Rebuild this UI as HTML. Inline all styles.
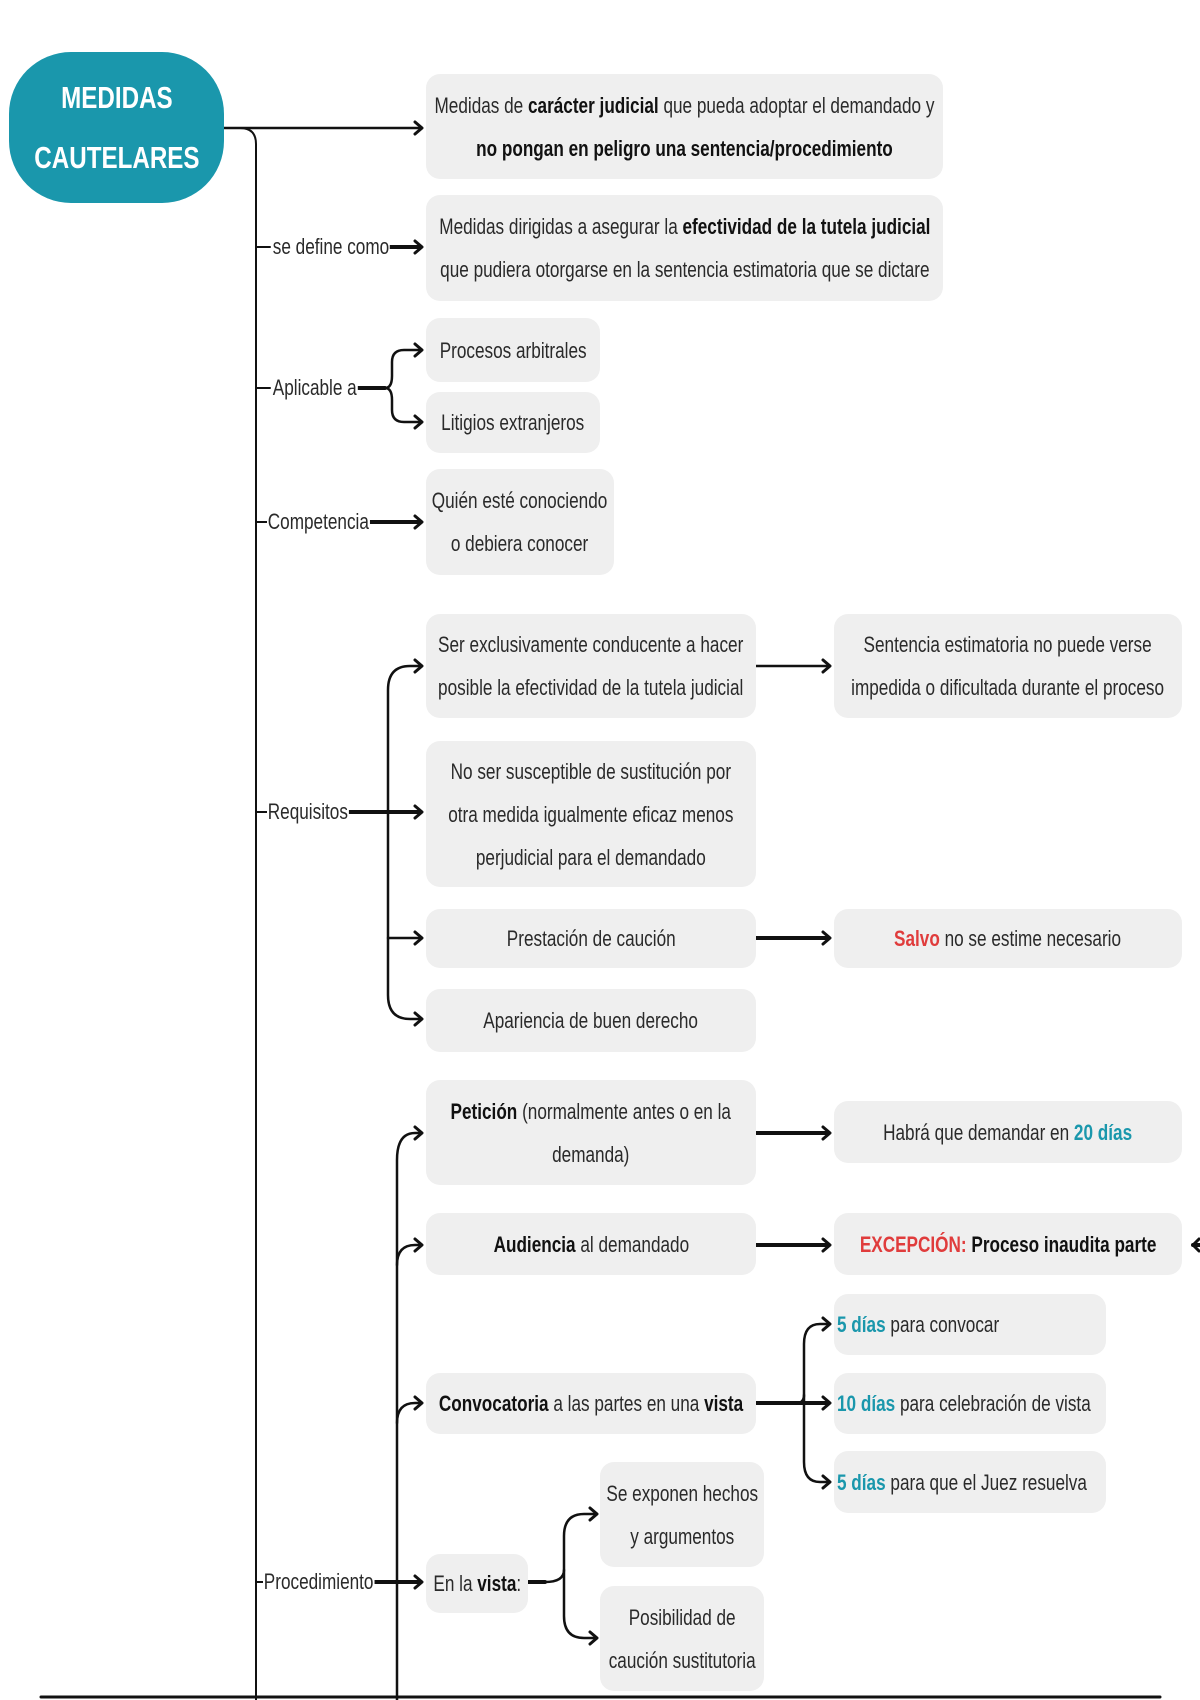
<!DOCTYPE html>
<html><head><meta charset="utf-8"><style>
body{margin:0;width:1200px;height:1700px;background:#fff;position:relative;overflow:hidden;font-family:"Liberation Sans",sans-serif;color:#2a2a2a}
.b{position:absolute;background:#efefef;border-radius:14px;display:flex;align-items:center;justify-content:center;text-align:center;font-size:22px;line-height:43px;box-sizing:border-box}
.b.lft{justify-content:flex-start}
.s{display:inline-block;white-space:nowrap;transform:scaleX(.78);transform-origin:center}
.lft .s{transform-origin:left center;margin-left:6px}
.l{position:absolute;font-size:22px;background:#fff;line-height:26px;padding:0 1px;white-space:nowrap;transform:scaleX(.78);transform-origin:left center}
b{font-weight:bold;color:#111}
.t{color:#1a97ac;font-weight:bold}
.r{color:#e03c3c;font-weight:bold}
svg{position:absolute;left:0;top:0}
</style></head><body>
<svg width="1200" height="1700" fill="none" stroke="#111" stroke-linecap="round" stroke-linejoin="round">
<path d="M224 128 L240 128 Q256 128 256 144 L256 1700" stroke-width="2"/>
<path d="M224 128 L420 128" stroke-width="2.5"/>
<path d="M41 1697 L1160 1697" stroke-width="3"/>
<g stroke-width="2"><path d="M256 247 L270 247"/><path d="M256 388 L270 388"/><path d="M256 522 L268 522"/><path d="M256 812 L268 812"/><path d="M256 1582 L264 1582"/></g>
<g stroke-width="4">
<path d="M388 247 L420 247"/>
<path d="M356 388 L385 388"/>
<path d="M366 522 L420 522"/>
<path d="M343 812 L420 812"/>
<path d="M370 1582 L420 1582"/>
<path d="M756 938 L828 938"/>
<path d="M756 1133 L828 1133"/>
<path d="M756 1245 L828 1245"/>
<path d="M756 1403 L828 1403"/>
<path d="M528 1582 L545 1582"/>
<path d="M1200 1245 L1193 1245"/>
</g>
<path d="M756 666 L828 666" stroke-width="2.5"/>
<g stroke-width="2.5">
<path d="M385 388 Q392 388 392 376 L392 362 Q392 350 404 350 L420 350"/>
<path d="M385 388 Q392 388 392 400 L392 410 Q392 422 404 422 L420 422"/>
<path d="M420 666 L410 666 Q388 666 388 690 L388 995 Q388 1019 410 1019 L420 1019"/>
<path d="M388 938 Q388 938 410 938 L420 938"/>
<path d="M385 812 L388 812"/>
<path d="M397 1700 L397 1160 Q397 1133 415 1133 L420 1133"/>
<path d="M397 1265 Q397 1245 415 1245 L420 1245"/>
<path d="M397 1423 Q397 1403 415 1403 L420 1403"/>
<path d="M828 1324 L820 1324 Q804 1324 804 1344 L804 1462 Q804 1482 820 1482 L828 1482"/>
<path d="M797 1403 Q804 1403 804 1395"/>
<path d="M594 1514 L584 1514 Q564 1514 564 1536 L564 1616 Q564 1638 584 1638 L594 1638"/>
<path d="M545 1582 Q564 1582 564 1570"/>
</g>
<path d="M797 1403 L828 1403" stroke-width="4"/>
<g stroke-width="3">
<path d="M415 122 L422 128 L415 134"/><path d="M415 241 L422 247 L415 253"/><path d="M415 344 L422 350 L415 356"/><path d="M415 416 L422 422 L415 428"/><path d="M415 516 L422 522 L415 528"/>
<path d="M415 660 L422 666 L415 672"/><path d="M415 806 L422 812 L415 818"/><path d="M415 932 L422 938 L415 944"/><path d="M415 1013 L422 1019 L415 1025"/>
<path d="M823 660 L830 666 L823 672"/><path d="M823 932 L830 938 L823 944"/><path d="M823 1127 L830 1133 L823 1139"/><path d="M823 1239 L830 1245 L823 1251"/>
<path d="M415 1127 L422 1133 L415 1139"/><path d="M415 1239 L422 1245 L415 1251"/><path d="M415 1397 L422 1403 L415 1409"/><path d="M415 1576 L422 1582 L415 1588"/>
<path d="M823 1318 L830 1324 L823 1330"/><path d="M823 1397 L830 1403 L823 1409"/><path d="M823 1476 L830 1482 L823 1488"/>
<path d="M590 1508 L597 1514 L590 1520"/><path d="M590 1632 L597 1638 L590 1644"/>
<path d="M1199 1239 L1193 1245 L1199 1251"/>
</g>
</svg>
<div style="position:absolute;left:9px;top:52px;width:215px;height:151px;border-radius:62px;background:#1a97ac;color:#fff;font-weight:bold;font-size:31px;line-height:60px;display:flex;align-items:center;justify-content:center;text-align:center"><span class="s">MEDIDAS<br>CAUTELARES</span></div>

<div class="b" style="left:426px;top:74px;width:517px;height:105px"><span class="s">Medidas de <b>carácter judicial</b> que pueda adoptar el demandado y<br><b>no pongan en peligro una sentencia/procedimiento</b></span></div>
<div class="b" style="left:426px;top:195px;width:517px;height:106px"><span class="s">Medidas dirigidas a asegurar la <b>efectividad de la tutela judicial</b><br>que pudiera otorgarse en la sentencia estimatoria que se dictare</span></div>
<div class="l" style="left:272px;top:234px">se define como</div>
<div class="l" style="left:272px;top:375px">Aplicable a</div>
<div class="b" style="left:426px;top:318px;width:174px;height:64px"><span class="s">Procesos arbitrales</span></div>
<div class="b" style="left:426px;top:392px;width:174px;height:61px"><span class="s">Litigios extranjeros</span></div>
<div class="l" style="left:267px;top:509px">Competencia</div>
<div class="b" style="left:426px;top:469px;width:188px;height:106px"><span class="s">Quién esté conociendo<br>o debiera conocer</span></div>

<div class="l" style="left:267px;top:799px">Requisitos</div>
<div class="b" style="left:426px;top:614px;width:330px;height:104px"><span class="s">Ser exclusivamente conducente a hacer<br>posible la efectividad de la tutela judicial</span></div>
<div class="b" style="left:426px;top:741px;width:330px;height:146px"><span class="s">No ser susceptible de sustitución por<br>otra medida igualmente eficaz menos<br>perjudicial para el demandado</span></div>
<div class="b" style="left:426px;top:909px;width:330px;height:59px"><span class="s">Prestación de caución</span></div>
<div class="b" style="left:426px;top:989px;width:330px;height:63px"><span class="s">Apariencia de buen derecho</span></div>
<div class="b" style="left:834px;top:614px;width:348px;height:104px"><span class="s">Sentencia estimatoria no puede verse<br>impedida o dificultada durante el proceso</span></div>
<div class="b" style="left:834px;top:909px;width:348px;height:59px"><span class="s"><span class="r">Salvo</span> no se estime necesario</span></div>

<div class="l" style="left:263px;top:1569px">Procedimiento</div>
<div class="b" style="left:426px;top:1080px;width:330px;height:105px"><span class="s"><b>Petición</b> (normalmente antes o en la<br>demanda)</span></div>
<div class="b" style="left:834px;top:1101px;width:348px;height:62px"><span class="s">Habrá que demandar en <span class="t">20 días</span></span></div>
<div class="b" style="left:426px;top:1213px;width:330px;height:62px"><span class="s"><b>Audiencia</b> al demandado</span></div>
<div class="b" style="left:834px;top:1213px;width:348px;height:62px"><span class="s"><span class="r">EXCEPCIÓN:</span> <b>Proceso inaudita parte</b></span></div>
<div class="b" style="left:426px;top:1373px;width:330px;height:61px"><span class="s"><b>Convocatoria</b> a las partes en una <b>vista</b></span></div>
<div class="b lft" style="left:834px;top:1294px;width:272px;height:61px"><span class="s" style="margin-left:3px"><span class="t">5 días</span> para convocar</span></div>
<div class="b lft" style="left:834px;top:1373px;width:272px;height:61px"><span class="s" style="margin-left:3px"><span class="t">10 días</span> para celebración de vista</span></div>
<div class="b lft" style="left:834px;top:1451px;width:272px;height:62px"><span class="s" style="margin-left:3px"><span class="t">5 días</span> para que el Juez resuelva</span></div>
<div class="b" style="left:426px;top:1554px;width:102px;height:59px"><span class="s">En la <b>vista</b>:</span></div>
<div class="b" style="left:600px;top:1462px;width:164px;height:105px"><span class="s">Se exponen hechos<br>y argumentos</span></div>
<div class="b" style="left:600px;top:1586px;width:164px;height:105px"><span class="s">Posibilidad de<br>caución sustitutoria</span></div>
</body></html>
